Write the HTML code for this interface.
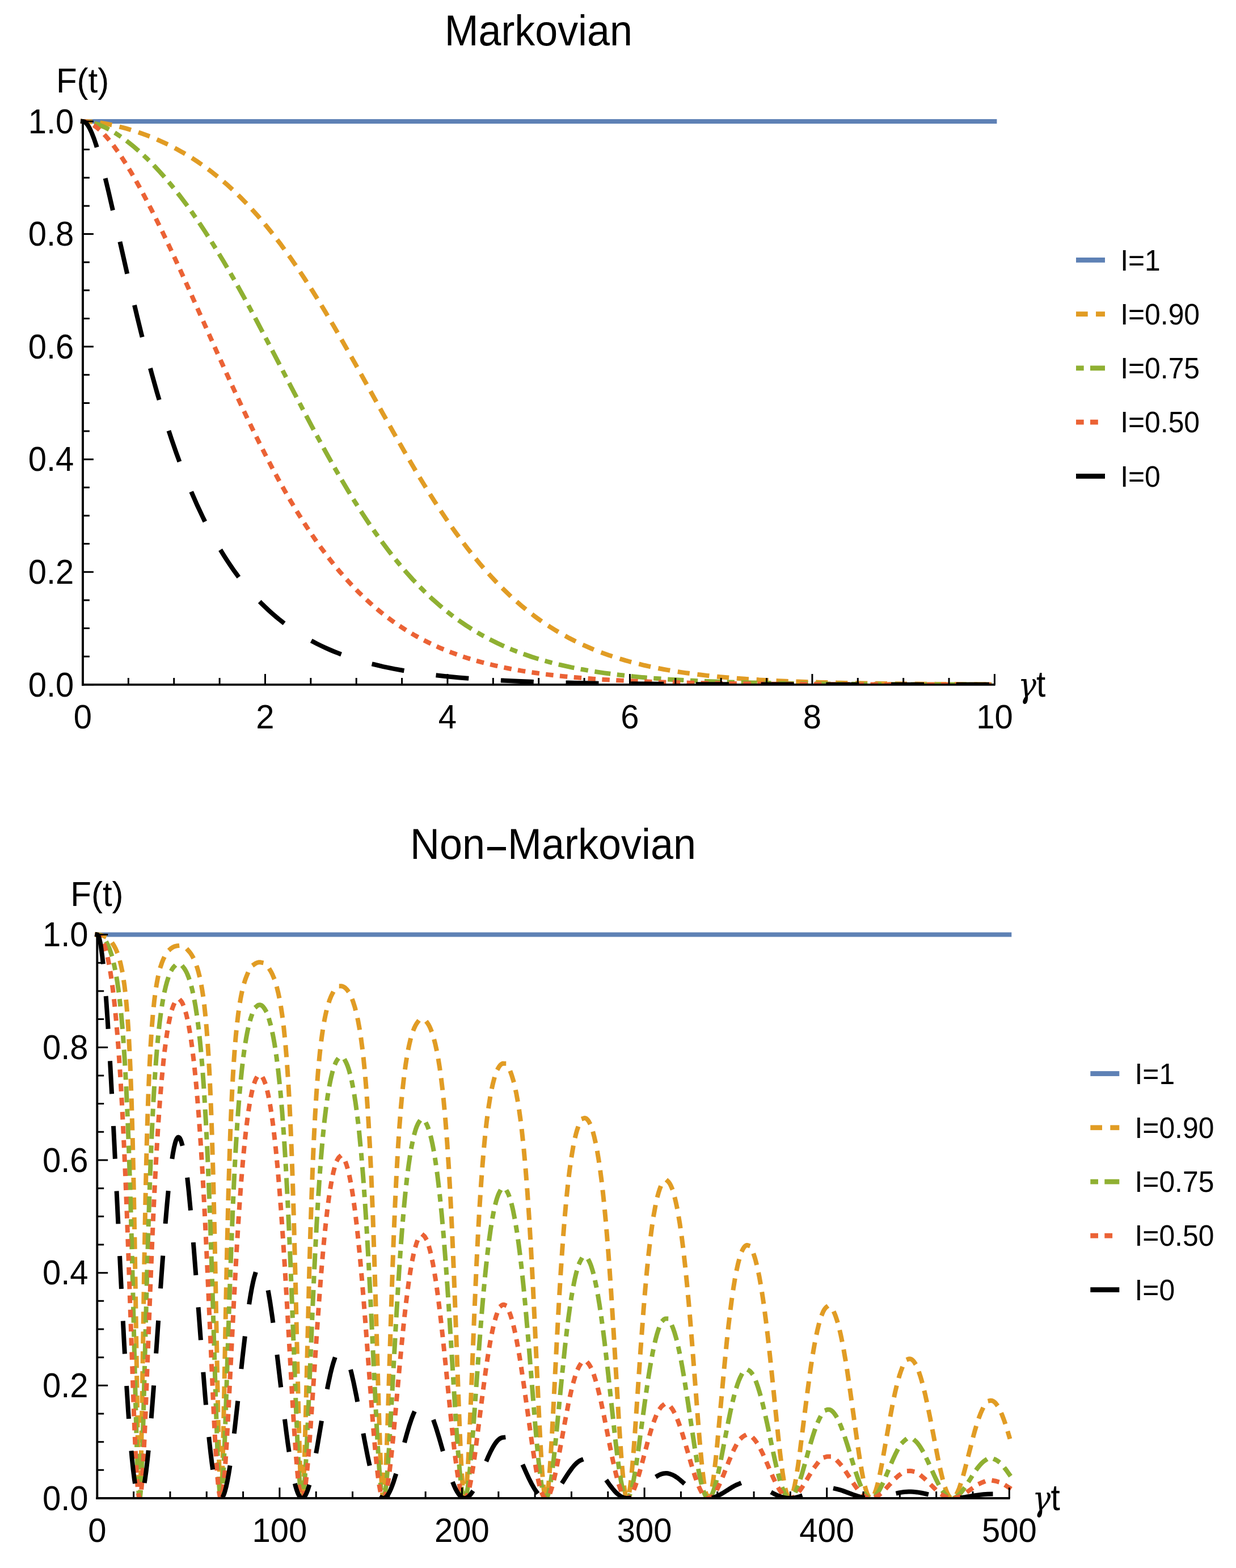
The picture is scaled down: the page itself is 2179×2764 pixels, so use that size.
<!DOCTYPE html>
<html><head><meta charset="utf-8"><title>F(t) Markovian / Non-Markovian</title>
<style>html,body{margin:0;padding:0;background:#fff;overflow:hidden}svg{display:block;width:100%;height:auto}</style></head><body>
<svg width="2179" height="2764" viewBox="0 0 2179 2764">
<rect width="2179" height="2764" fill="#fff"/>
<clipPath id="c0"><rect x="140" y="193.95" width="1627.4" height="1012.9"/></clipPath>
<g clip-path="url(#c0)" fill="none" stroke-width="8" stroke-linecap="square" stroke-linejoin="miter">
<path d="M146 213.95L1753.4 213.95" stroke="#5E81B5"/>
<path d="M146.00 213.95L154.04 214.16L162.48 214.75L171.72 215.78L181.36 217.20L191.41 219.01L201.46 221.12L211.90 223.63L222.35 226.44L232.80 229.54L242.85 232.80L253.29 236.48L263.34 240.30L273.39 244.40L283.43 248.80L293.48 253.51L303.12 258.32L312.37 263.21L321.61 268.39L330.45 273.62L339.29 279.12L348.13 284.92L356.97 291.02L365.81 297.42L374.25 303.82L382.69 310.52L391.13 317.53L399.57 324.85L408.01 332.48L416.45 340.44L424.48 348.32L432.92 356.93L440.96 365.44L454.22 380.16L467.48 395.74L480.74 412.18L494.40 430.01L507.67 448.16L521.33 467.72L535.39 488.72L549.46 510.56L561.51 529.89L573.97 550.42L587.23 572.82L600.89 596.40L627.01 642.58L674.43 727.96L692.92 760.97L712.21 794.80L729.49 824.35L739.53 841.13L749.18 856.92L758.82 872.36L768.06 886.83L777.31 900.95L786.15 914.11L794.99 926.92L803.83 939.37L814.68 954.16L825.13 967.86L835.57 981.04L846.02 993.69L856.47 1005.81L866.92 1017.40L877.37 1028.46L888.22 1039.40L898.67 1049.42L909.52 1059.30L920.36 1068.66L931.62 1077.83L942.87 1086.47L954.12 1094.61L965.37 1102.26L977.03 1109.69L989.88 1117.34L1003.15 1124.65L1016.41 1131.42L1030.07 1137.85L1044.13 1143.93L1058.20 1149.51L1072.67 1154.76L1087.94 1159.81L1103.21 1164.39L1119.28 1168.75L1135.76 1172.77L1153.04 1176.54L1170.72 1179.98L1189.20 1183.17L1208.49 1186.11L1228.58 1188.79L1248.27 1191.08L1269.17 1193.20L1290.87 1195.10L1313.78 1196.83L1337.89 1198.38L1363.61 1199.76L1390.53 1200.98L1419.46 1202.05L1449.60 1202.96L1482.15 1203.75L1555.29 1204.99L1643.29 1205.85L1753.40 1206.39" stroke="#E19C24" stroke-dasharray="13.200,21.704" stroke-dashoffset="0.400"/>
<path d="M146.00 213.95L150.02 214.10L154.04 214.52L158.46 215.26L162.88 216.27L167.30 217.52L172.12 219.13L176.94 220.98L182.17 223.24L187.39 225.73L192.61 228.45L197.84 231.39L203.46 234.77L208.69 238.12L214.31 241.93L219.94 245.95L225.57 250.18L236.82 259.22L248.47 269.40L259.72 279.99L271.38 291.74L282.63 303.82L294.28 317.09L305.94 331.13L317.59 345.93L328.04 359.83L338.89 374.89L349.74 390.58L360.59 406.88L371.44 423.77L382.69 441.88L393.94 460.56L405.60 480.48L416.45 499.51L427.30 518.96L438.55 539.53L450.60 561.95L474.31 606.93L518.92 692.89L537.40 728.23L556.69 764.47L573.97 796.13L584.02 814.11L594.06 831.73L603.71 848.27L613.35 864.43L623.00 880.19L632.24 894.88L641.48 909.17L650.32 922.44L661.57 938.77L672.42 953.90L683.68 968.94L694.53 982.83L705.38 996.10L716.63 1009.22L727.88 1021.69L739.13 1033.53L750.38 1044.74L762.04 1055.72L773.69 1066.06L785.34 1075.79L797.40 1085.24L809.45 1094.09L821.51 1102.37L833.97 1110.34L847.63 1118.45L861.69 1126.14L876.16 1133.41L890.63 1140.06L905.50 1146.31L921.17 1152.30L937.24 1157.85L953.72 1162.99L970.60 1167.71L988.28 1172.13L1006.36 1176.15L1025.25 1179.86L1044.94 1183.27L1065.43 1186.37L1086.73 1189.16L1109.23 1191.71L1131.34 1193.86L1154.64 1195.80L1179.16 1197.53L1204.87 1199.05L1232.20 1200.41L1261.54 1201.60L1292.88 1202.63L1327.04 1203.53L1362.40 1204.25L1400.98 1204.87L1490.59 1205.79L1602.30 1206.37L1753.40 1206.68" stroke="#8FB032" stroke-dasharray="5.300,19.700,20.200,19.590" stroke-dashoffset="0.400"/>
<path d="M146.00 213.95L148.01 214.04L150.42 214.36L152.83 214.92L155.24 215.68L157.65 216.64L160.47 218.00L162.88 219.35L165.69 221.13L171.32 225.30L176.94 230.21L182.97 236.19L189.00 242.85L195.43 250.63L201.86 259.03L208.69 268.57L215.92 279.32L223.16 290.66L230.39 302.54L238.02 315.63L246.06 329.96L258.92 353.95L272.18 379.89L286.25 408.52L301.52 440.70L315.18 470.26L330.05 503.04L383.49 622.94L405.19 671.06L427.30 718.84L437.74 740.86L447.79 761.61L459.04 784.32L470.29 806.42L481.14 827.12L491.99 847.18L502.44 865.88L512.89 883.94L523.34 901.35L533.79 918.10L544.64 934.79L555.49 950.77L566.34 966.03L577.19 980.58L588.04 994.42L599.29 1008.06L610.54 1020.97L621.79 1033.17L633.04 1044.69L644.70 1055.93L656.35 1066.48L668.00 1076.38L680.06 1085.97L692.11 1094.91L704.57 1103.53L717.43 1111.78L731.50 1120.11L745.96 1127.96L760.83 1135.34L776.10 1142.24L791.77 1148.66L807.85 1154.61L824.72 1160.23L842.00 1165.38L860.09 1170.18L878.57 1174.52L897.86 1178.52L917.95 1182.17L938.85 1185.48L960.95 1188.50L983.86 1191.19L1008.37 1193.64L1032.08 1195.65L1056.99 1197.43L1083.11 1199.00L1111.24 1200.39L1141.38 1201.62L1173.53 1202.67L1208.09 1203.57L1245.86 1204.33L1328.64 1205.44L1431.12 1206.16L1563.32 1206.58L1753.40 1206.78" stroke="#EB6235" stroke-dasharray="5.500,19.406" stroke-dashoffset="0.400"/>
<path d="M146.00 213.95L147.21 214.09L148.81 214.69L150.42 215.74L152.03 217.23L153.64 219.12L155.24 221.40L156.85 224.05L158.46 227.05L162.07 234.95L165.69 244.30L169.31 254.91L173.33 267.97L177.34 282.16L181.76 298.85L186.19 316.44L191.41 338.14L200.65 378.15L226.77 493.93L234.81 528.60L242.04 559.01L248.87 586.92L255.30 612.42L261.73 637.12L268.16 661.00L276.60 691.08L285.04 719.73L293.48 746.96L302.32 774.00L310.76 798.42L319.60 822.62L328.44 845.44L337.68 867.91L347.73 890.79L357.77 912.16L363.00 922.71L368.22 932.88L373.45 942.70L378.67 952.17L383.90 961.30L389.52 970.77L395.15 979.88L400.77 988.64L406.40 997.07L412.02 1005.17L417.65 1012.96L423.68 1020.98L429.71 1028.66L435.73 1036.03L441.76 1043.09L447.79 1049.86L454.22 1056.78L460.65 1063.39L467.08 1069.71L473.51 1075.76L479.94 1081.53L486.77 1087.39L493.60 1092.98L500.83 1098.61L508.07 1103.96L515.30 1109.05L522.53 1113.88L530.17 1118.73L537.00 1122.85L544.23 1127.00L551.47 1130.95L558.70 1134.70L565.93 1138.27L573.57 1141.85L581.20 1145.24L588.84 1148.45L596.88 1151.65L604.91 1154.67L613.35 1157.67L621.79 1160.49L639.07 1165.78L657.15 1170.67L675.64 1175.07L695.33 1179.17L715.82 1182.87L737.52 1186.26L760.03 1189.26L784.14 1192.00L809.45 1194.41L836.78 1196.58L862.10 1198.25L889.42 1199.75L918.36 1201.06L949.70 1202.20L983.05 1203.17L1019.22 1203.99L1058.60 1204.68L1102.40 1205.26L1198.04 1206.03L1320.61 1206.50L1485.77 1206.74L1753.40 1206.83" stroke="#000000" stroke-dasharray="50.000,64.720" stroke-dashoffset="0.400"/>
</g>
<g stroke="#000" fill="none">
<path d="M144.05 1206.85H1754.6" stroke-width="3.9"/>
<path d="M146 1208.8V211.95" stroke-width="3.9"/>
<path d="M146 1206.85H164.9M146 1157.2H157.9M146 1107.56H157.9M146 1057.91H157.9M146 1008.27H164.9M146 958.62H157.9M146 908.98H157.9M146 859.33H157.9M146 809.69H164.9M146 760.04H157.9M146 710.4H157.9M146 660.75H157.9M146 611.11H164.9M146 561.47H157.9M146 511.82H157.9M146 462.17H157.9M146 412.53H164.9M146 362.88H157.9M146 313.24H157.9M146 263.6H157.9M146 213.95H164.9M226.37 1206.85V1194.9M306.74 1206.85V1194.9M387.11 1206.85V1194.9M467.48 1206.85V1188.1M547.85 1206.85V1194.9M628.22 1206.85V1194.9M708.59 1206.85V1194.9M788.96 1206.85V1188.1M869.33 1206.85V1194.9M949.7 1206.85V1194.9M1030.07 1206.85V1194.9M1110.44 1206.85V1188.1M1190.81 1206.85V1194.9M1271.18 1206.85V1194.9M1351.55 1206.85V1194.9M1431.92 1206.85V1188.1M1512.29 1206.85V1194.9M1592.66 1206.85V1194.9M1673.03 1206.85V1194.9M1753.4 1206.85V1188.1" stroke-width="3"/>
</g>
<text transform="translate(130.3 1227.65) scale(1 1.04)" text-anchor="end" style="font-family:'Liberation Sans',Arial,sans-serif;font-size:58px">0.0</text>
<text transform="translate(130.3 1029.07) scale(1 1.04)" text-anchor="end" style="font-family:'Liberation Sans',Arial,sans-serif;font-size:58px">0.2</text>
<text transform="translate(130.3 830.49) scale(1 1.04)" text-anchor="end" style="font-family:'Liberation Sans',Arial,sans-serif;font-size:58px">0.4</text>
<text transform="translate(130.3 631.91) scale(1 1.04)" text-anchor="end" style="font-family:'Liberation Sans',Arial,sans-serif;font-size:58px">0.6</text>
<text transform="translate(130.3 433.33) scale(1 1.04)" text-anchor="end" style="font-family:'Liberation Sans',Arial,sans-serif;font-size:58px">0.8</text>
<text transform="translate(130.3 234.75) scale(1 1.04)" text-anchor="end" style="font-family:'Liberation Sans',Arial,sans-serif;font-size:58px">1.0</text>
<text transform="translate(146 1283.5) scale(1 1.03)" text-anchor="middle" style="font-family:'Liberation Sans',Arial,sans-serif;font-size:58px">0</text>
<text transform="translate(467.48 1283.5) scale(1 1.03)" text-anchor="middle" style="font-family:'Liberation Sans',Arial,sans-serif;font-size:58px">2</text>
<text transform="translate(788.96 1283.5) scale(1 1.03)" text-anchor="middle" style="font-family:'Liberation Sans',Arial,sans-serif;font-size:58px">4</text>
<text transform="translate(1110.44 1283.5) scale(1 1.03)" text-anchor="middle" style="font-family:'Liberation Sans',Arial,sans-serif;font-size:58px">6</text>
<text transform="translate(1431.92 1283.5) scale(1 1.03)" text-anchor="middle" style="font-family:'Liberation Sans',Arial,sans-serif;font-size:58px">8</text>
<text transform="translate(1753.4 1283.5) scale(1 1.03)" text-anchor="middle" style="font-family:'Liberation Sans',Arial,sans-serif;font-size:58px">10</text>
<text transform="translate(98.98 163.3) scale(1 1.03)" text-anchor="start" style="font-family:'Liberation Sans',Arial,sans-serif;font-size:60px">F(t)</text>
<text transform="translate(1794.79 1228.6) scale(0.915 1)" text-anchor="start" style="font-family:'DejaVu Serif',serif;font-style:italic;font-size:58.9px">&#947;</text>
<text transform="translate(1827.11 1228.1) scale(0.9 1)" text-anchor="start" style="font-family:'Liberation Sans',Arial,sans-serif;font-size:65.1px">t</text>
<text transform="translate(949.3 80) scale(0.984 1.035)" text-anchor="middle" style="font-family:'Liberation Sans',Arial,sans-serif;font-size:73px">Markovian</text>
<rect x="1897" y="454" width="51" height="8.8" fill="#5E81B5"/>
<text transform="translate(1975.2 476.6) scale(0.958 1)" text-anchor="start" style="font-family:'Liberation Sans',Arial,sans-serif;font-size:52px">I=1</text>
<rect x="1897" y="549.2" width="20.7" height="8.8" fill="#E19C24"/>
<rect x="1932" y="549.2" width="16" height="8.8" fill="#E19C24"/>
<text transform="translate(1975.2 571.8) scale(0.958 1)" text-anchor="start" style="font-family:'Liberation Sans',Arial,sans-serif;font-size:52px">I=0.90</text>
<rect x="1897" y="644.5" width="13.7" height="8.8" fill="#8FB032"/>
<rect x="1922" y="644.5" width="26" height="8.8" fill="#8FB032"/>
<text transform="translate(1975.2 667.1) scale(0.958 1)" text-anchor="start" style="font-family:'Liberation Sans',Arial,sans-serif;font-size:52px">I=0.75</text>
<rect x="1897" y="739.7" width="13.7" height="8.8" fill="#EB6235"/>
<rect x="1922" y="739.7" width="13.8" height="8.8" fill="#EB6235"/>
<text transform="translate(1975.2 762.3) scale(0.958 1)" text-anchor="start" style="font-family:'Liberation Sans',Arial,sans-serif;font-size:52px">I=0.50</text>
<rect x="1897" y="835" width="51" height="8.8" fill="#000000"/>
<text transform="translate(1975.2 857.6) scale(0.958 1)" text-anchor="start" style="font-family:'Liberation Sans',Arial,sans-serif;font-size:52px">I=0</text>
<clipPath id="c1"><rect x="165.3" y="1627.6" width="1628" height="1013.4"/></clipPath>
<g clip-path="url(#c1)" fill="none" stroke-width="8" stroke-linecap="square" stroke-linejoin="miter">
<path d="M171.3 1647.6L1779.3 1647.6" stroke="#5E81B5"/>
<path d="M171.30 1647.60L174.14 1647.74L176.95 1648.15L179.72 1648.83L182.42 1649.78L185.02 1650.98L187.54 1652.44L189.95 1654.13L192.28 1656.10L194.46 1658.25L196.55 1660.66L198.53 1663.30L200.43 1666.21L202.25 1669.39L203.97 1672.79L205.60 1676.45L207.19 1680.45L210.08 1689.17L212.73 1699.15L215.14 1710.38L217.37 1723.10L219.41 1737.30L221.31 1753.37L223.05 1771.08L224.69 1790.97L226.08 1811.00L227.37 1832.52L228.60 1856.43L229.75 1882.19L231.89 1940.90L233.88 2010.83L235.67 2090.17L237.42 2183.59L239.00 2281.91L242.03 2485.99L243.34 2562.90L244.09 2597.60L244.79 2621.58L245.46 2635.92L245.80 2639.75L246.13 2640.99L246.26 2640.87L246.42 2640.21L246.72 2637.59L247.33 2626.37L247.97 2606.90L248.64 2579.23L250.20 2493.72L254.11 2242.04L256.07 2133.94L257.38 2072.30L258.72 2018.07L260.14 1969.14L261.64 1925.68L263.38 1884.03L265.26 1847.66L267.32 1815.58L269.58 1787.82L272.07 1763.69L273.41 1752.95L274.83 1742.95L276.33 1733.70L277.91 1725.20L279.57 1717.42L281.34 1710.24L283.32 1703.32L285.41 1697.11L287.64 1691.52L290.02 1686.48L292.57 1682.02L295.25 1678.17L298.09 1674.88L301.09 1672.16L304.36 1669.95L306.05 1669.08L307.79 1668.36L309.53 1667.82L311.30 1667.43L313.10 1667.22L314.89 1667.17L316.69 1667.28L318.49 1667.56L320.25 1668.01L322.02 1668.62L325.48 1670.32L328.80 1672.65L331.62 1675.22L334.30 1678.25L336.84 1681.73L339.28 1685.71L341.59 1690.14L343.78 1695.07L345.85 1700.45L347.83 1706.41L349.71 1712.88L351.48 1719.85L353.16 1727.42L354.75 1735.46L356.27 1744.23L357.72 1753.60L360.43 1774.45L362.44 1793.40L364.31 1814.44L366.08 1837.90L367.74 1863.83L369.30 1892.18L370.77 1923.39L372.19 1958.11L373.53 1995.68L375.94 2076.94L378.30 2175.49L380.39 2278.49L384.33 2490.61L385.94 2565.33L386.85 2598.69L387.71 2622.06L388.54 2636.11L388.97 2639.80L389.18 2640.71L389.37 2641.00L389.56 2640.80L389.77 2640.00L390.18 2636.82L391.01 2623.59L391.86 2601.26L392.78 2569.27L394.41 2496.34L398.32 2294.64L400.39 2196.94L402.69 2103.56L405.08 2024.70L406.39 1988.22L407.73 1955.42L409.15 1924.96L410.65 1896.95L412.23 1871.42L413.89 1848.30L415.66 1827.22L417.57 1807.90L420.06 1786.89L422.76 1768.44L424.21 1760.09L425.71 1752.36L427.29 1745.12L428.93 1738.48L430.67 1732.24L432.47 1726.60L434.37 1721.37L436.35 1716.65L438.42 1712.43L440.59 1708.66L442.84 1705.39L445.17 1702.61L447.80 1700.14L450.53 1698.25L453.34 1696.96L456.18 1696.30L459.05 1696.27L461.92 1696.86L464.76 1698.06L467.55 1699.88L470.23 1702.26L472.80 1705.18L475.29 1708.66L477.70 1712.71L480.01 1717.29L482.21 1722.39L484.32 1728.08L486.33 1734.29" stroke="#E19C24" stroke-dasharray="13.200,21.711" stroke-dashoffset="0.400"/>
<path d="M486.31 1734.20L488.37 1741.49L490.35 1749.51L492.23 1758.17L494.03 1767.57L495.74 1777.73L497.38 1788.64L498.93 1800.28L500.43 1812.86L503.24 1840.66L505.84 1872.31L508.26 1908.12L510.53 1948.96L512.49 1990.58L514.37 2037.09L516.19 2089.23L517.96 2146.91L521.04 2264.03L526.53 2499.34L528.54 2572.32L529.62 2602.53L530.61 2623.35L531.57 2636.12L532.05 2639.55L532.30 2640.51L532.54 2640.96L532.78 2640.91L533.05 2640.25L533.58 2637.08L534.12 2631.49L534.65 2623.57L535.75 2600.61L536.96 2566.44L539.02 2492.47L545.29 2240.47L547.41 2166.80L549.53 2102.43L551.46 2051.66L553.44 2006.62L555.53 1966.06L557.76 1929.57L559.23 1908.63L560.76 1889.28L562.37 1871.21L564.03 1854.68L565.77 1839.40L567.62 1825.17L569.57 1812.03L571.61 1800.16L573.78 1789.26L576.06 1779.46L578.45 1770.76L580.96 1763.05L583.62 1756.35L586.41 1750.66L587.83 1748.24L589.30 1746.04L590.80 1744.11L592.30 1742.47L594.23 1740.78L596.19 1739.52L598.17 1738.68L600.15 1738.28L602.16 1738.31L604.15 1738.77L606.13 1739.65L608.11 1740.97L610.07 1742.71L611.97 1744.85L613.85 1747.39L615.67 1750.31L617.47 1753.65L619.21 1757.36L620.92 1761.50L622.59 1766.01L625.67 1775.83L628.59 1787.14L631.35 1799.95L633.95 1814.25L636.41 1830.19L638.75 1847.77L640.97 1867.21L643.06 1888.26L644.67 1906.55L646.22 1926.19L649.20 1969.97L651.98 2019.62L654.64 2075.97L657.32 2143.00L660.02 2221.40L662.57 2304.03L667.82 2485.12L670.32 2560.49L671.76 2595.45L673.10 2619.86L673.75 2628.45L674.39 2634.87L675.03 2639.03L675.35 2640.25L675.68 2640.89L675.97 2640.97L676.27 2640.57L676.88 2638.17L677.47 2633.94L678.09 2627.57L679.35 2608.73L680.66 2581.74L683.15 2515.00L690.23 2289.87L692.27 2230.20L694.22 2177.81L696.55 2122.03L698.91 2072.81L701.35 2028.89L703.92 1989.38L706.90 1951.17L708.45 1933.95L710.06 1917.88L711.75 1902.71L713.49 1888.71L715.29 1875.84L717.16 1863.91L719.12 1852.93L721.16 1842.93L723.27 1833.89L725.44 1825.92L727.72 1818.82L730.08 1812.68L732.52 1807.52L735.01 1803.38L736.67 1801.21L738.36 1799.48L740.05 1798.19L741.76 1797.33L743.48 1796.91L745.20 1796.93L746.94 1797.39L748.65 1798.29L750.37 1799.62L752.06 1801.37L753.72 1803.53L755.38 1806.13L757.01 1809.15L758.62 1812.58L760.20 1816.41L761.76 1820.66L764.71 1830.13L767.52 1841.05L770.23 1853.55L772.80 1867.49L775.26 1882.99L777.65 1900.27L779.93 1919.14L782.10 1939.58L785.29 1974.59L788.29 2013.79L791.18 2058.25L793.97 2108.00L796.97 2169.81L800.00 2240.91L802.90 2316.09L809.09 2485.83L812.14 2559.74L813.91 2594.19L815.57 2618.83L816.38 2627.66L817.15 2634.13L817.93 2638.49L818.33 2639.90L818.71 2640.70L819.08 2641.00L819.48 2640.75L819.86 2640.01L820.26 2638.66L821.04 2634.45L821.84 2627.97L822.65 2619.41L823.48 2608.54L825.25 2579.30L826.72 2549.69L828.36 2512.75L836.02 2321.33L840.12 2228.15L842.43 2181.81L844.76 2139.60L847.12 2101.53L849.53 2067.12L852.18 2034.09L854.97 2004.23L857.86 1977.85L860.92 1954.43L864.13 1934.03L865.80 1924.99L867.51 1916.63L869.25 1909.07L871.05 1902.21L872.90 1896.05L874.77 1890.69L876.22 1887.12L877.69 1883.99L879.20 1881.28L880.70 1879.05L882.22 1877.25L883.75 1875.92L885.28 1875.05L886.83 1874.62L888.39 1874.65L889.94 1875.13L891.50 1876.08L893.02 1877.46L894.55 1879.29L896.08 1881.58L897.61 1884.34L899.11 1887.52L900.55 1891.05L902.00 1895.03L904.84 1904.27L907.60 1915.18L910.26 1927.62L912.83 1941.70L915.32 1957.44L917.73 1974.82L920.07 1993.86L923.42 2025.46L926.63 2061.09L929.74 2101.03L932.77 2145.60L936.09 2201.23L939.50 2265.39L942.76 2332.90L949.95 2488.52L951.88 2527.32L953.57 2558.30L955.66 2591.34L957.59 2615.27L958.52 2624.27L959.46 2631.41L960.37 2636.48L961.28 2639.68L961.79 2640.64L962.30 2641.00L962.81 2640.76L963.32 2639.94L963.83 2638.53L964.37 2636.42L965.41 2630.53L966.48 2622.13L967.58 2611.22L968.73 2597.50L969.91 2581.30L971.76 2552.25L973.88 2514.83L981.73 2362.64L985.32 2296.75L988.99 2235.97L992.61 2183.48" stroke="#E19C24" stroke-dasharray="13.200,21.703" stroke-dashoffset="25.895"/>
<path d="M992.59 2183.84L995.37 2148.39L998.21 2116.57L1001.14 2088.07L1004.16 2062.66L1007.30 2040.37L1010.54 2021.19L1012.20 2012.76L1013.92 2004.99L1015.63 1998.11L1017.40 1991.90L1019.23 1986.41L1021.07 1981.74L1022.95 1977.88L1024.83 1974.89L1026.73 1972.71L1027.69 1971.93L1028.66 1971.37L1029.62 1971.02L1030.59 1970.87L1031.55 1970.94L1032.52 1971.23L1033.48 1971.72L1034.45 1972.42L1036.38 1974.45L1038.31 1977.34L1040.21 1981.04L1042.11 1985.61L1043.99 1990.97L1045.84 1997.13L1047.66 2004.08L1050.34 2015.95L1052.97 2029.60L1055.54 2045.05L1058.06 2062.29L1060.52 2081.34L1062.94 2102.17L1065.29 2124.78L1067.63 2149.39L1069.98 2176.66L1072.32 2206.02L1074.67 2238.13L1077.09 2273.38L1081.54 2344.04L1090.94 2502.91L1093.35 2540.28L1095.50 2570.19L1098.12 2601.01L1099.38 2613.05L1100.59 2622.70L1101.80 2630.40L1102.98 2635.94L1103.56 2637.96L1104.15 2639.47L1104.72 2640.43L1105.31 2640.94L1105.84 2640.96L1106.41 2640.52L1106.97 2639.63L1107.53 2638.28L1108.66 2634.25L1109.78 2628.50L1110.93 2620.92L1112.14 2611.29L1114.63 2586.51L1116.75 2561.22L1119.11 2529.67L1129.40 2378.36L1134.63 2307.56L1137.52 2272.42L1140.39 2240.80L1143.26 2212.40L1146.15 2186.95L1149.31 2162.71L1152.53 2141.70L1155.82 2123.72L1157.49 2115.96L1159.17 2108.93L1160.89 2102.64L1162.61 2097.19L1164.35 2092.48L1166.12 2088.54L1167.88 2085.42L1169.65 2083.10L1171.45 2081.56L1172.33 2081.10L1173.24 2080.83L1174.16 2080.77L1175.07 2080.91L1175.98 2081.25L1176.92 2081.82L1178.77 2083.57L1180.59 2086.13L1182.44 2089.56L1184.26 2093.79L1186.08 2098.86L1187.88 2104.70L1189.67 2111.38L1191.44 2118.82L1193.21 2127.11L1194.95 2136.13L1198.41 2156.64L1201.81 2180.33L1204.92 2205.09L1208.00 2232.64L1211.09 2263.17L1214.25 2297.48L1217.01 2329.72L1219.98 2366.50L1231.64 2517.80L1234.46 2551.15L1236.95 2577.68L1238.48 2592.15L1239.92 2604.39L1241.34 2614.87L1242.71 2623.40L1244.08 2630.32L1245.42 2635.47L1246.76 2638.95L1247.43 2640.06L1248.07 2640.72L1248.71 2640.99L1249.38 2640.86L1250.05 2640.31L1250.72 2639.34L1251.39 2637.97L1252.09 2636.11L1253.46 2631.24L1254.85 2624.68L1256.30 2616.27L1257.77 2606.18L1259.33 2594.05L1261.85 2571.64L1264.66 2543.53L1275.92 2419.94L1281.28 2365.07L1284.17 2338.19L1287.01 2313.97L1289.80 2292.40L1292.59 2273.06L1295.48 2255.34L1298.37 2240.01L1301.30 2226.90L1304.24 2216.03L1305.72 2211.47L1307.22 2207.40L1308.72 2203.93L1310.22 2201.02L1311.72 2198.69L1313.25 2196.90L1314.75 2195.71L1316.28 2195.06L1317.86 2195.00L1319.44 2195.54L1321.02 2196.70L1322.63 2198.49L1324.24 2200.92L1325.82 2203.91L1327.40 2207.51L1328.98 2211.72L1330.56 2216.54L1332.14 2221.98L1335.30 2234.69L1338.47 2249.86L1341.63 2267.51L1344.55 2286.00L1347.53 2306.92L1350.55 2330.32L1353.66 2356.39L1359.42 2409.33L1371.94 2532.01L1375.16 2560.88L1378.05 2584.28L1379.79 2596.84L1381.48 2607.74L1383.12 2616.99L1384.70 2624.60L1386.28 2630.83L1387.83 2635.53L1389.39 2638.80L1390.16 2639.89L1390.91 2640.59L1391.66 2640.95L1392.44 2640.96L1393.22 2640.61L1394.00 2639.90L1394.77 2638.84L1395.55 2637.43L1397.13 2633.52L1398.74 2628.17L1400.40 2621.28L1402.12 2612.85L1403.91 2602.73L1406.81 2584.06L1410.05 2560.49L1422.14 2463.80L1427.50 2423.51L1430.31 2404.15L1433.04 2386.76L1435.72 2371.17L1438.38 2357.25L1440.98 2345.11L1443.55 2334.59L1446.12 2325.57L1448.70 2318.04L1451.27 2312.02L1452.55 2309.57L1453.87 2307.45L1455.15 2305.75L1456.44 2304.42L1457.73 2303.45L1459.04 2302.85L1460.46 2302.62L1461.88 2302.84L1463.30 2303.49L1464.72 2304.59L1466.14 2306.13L1467.59 2308.14L1469.01 2310.55L1470.46 2313.45L1471.88 2316.73L1473.32 2320.50L1476.22 2329.37L1479.11 2339.95L1482.06 2352.45L1484.85 2365.80L1487.66 2380.73L1490.56 2397.50L1493.59 2416.44L1499.29 2455.28L1512.45 2550.18L1516.04 2573.93L1519.26 2593.11L1521.19 2603.41L1523.07 2612.41L1524.89 2620.10L1526.66 2626.49L1528.40 2631.70L1530.14 2635.78L1531.86 2638.66L1532.71 2639.68L1533.57 2640.41L1534.43 2640.85L1535.29 2641.00L1536.14 2640.87L1537.03 2640.44L1537.91 2639.72L1538.80 2638.70L1540.57 2635.83L1542.39 2631.73L1544.24 2626.48L1546.17 2619.91L1548.15 2612.11L1551.39 2597.44L1555.04 2578.74L1567.82 2506.20L1573.10 2477.91L1575.78 2464.68L1578.38 2452.75L1580.90 2442.12L1583.37 2432.68L1585.59 2425.02L1587.81 2418.20L1590.01 2412.31L1592.21 2407.28L1594.41 2403.12L1596.58 2399.87L1598.75 2397.47L1599.82 2396.61L1600.92 2395.94L1602.26 2395.42L1603.63 2395.23L1604.99 2395.38L1606.36 2395.86L1607.73 2396.68L1609.09 2397.83L1610.46 2399.31L1611.83 2401.12L1613.19 2403.24L1614.59 2405.74L1617.37 2411.72L1620.19 2419.04L1623.06 2427.78L1625.71 2436.94L1628.44 2447.40L1631.26 2459.16L1634.23 2472.55L1639.86 2500.04L1653.37 2569.70L1657.20 2587.86L1660.63 2602.57L1662.67 2610.41L1664.62 2617.24L1666.55 2623.22L1668.43 2628.27L1670.28 2632.46L1672.13 2635.83L1673.95 2638.34L1675.74 2640.01L1676.66 2640.55L1677.57 2640.88L1678.48 2641.00L1679.39 2640.92L1680.30 2640.63L1681.24 2640.12L1683.11 2638.49L1685.02 2636.01L1686.95 2632.70L1688.93 2628.51L1690.97 2623.45L1694.59 2612.82L1698.61 2599.05L1702.68 2583.67L1714.82 2535.89L1718.73 2521.66L1722.32 2509.69L1726.45 2497.53L1728.46 2492.29L1730.42 2487.66L1732.37 2483.52L1734.30 2479.91L1736.21 2476.84L1738.11 2474.25L1740.31 2471.88L1742.50 2470.19L1744.70 2469.16L1745.80 2468.90L1746.90 2468.81L1748.00 2468.88L1749.10 2469.12L1751.32 2470.12L1753.55 2471.78L1755.77 2474.11L1758.02 2477.11L1760.30 2480.80L1762.60 2485.17L1764.94 2490.22L1767.32 2495.99L1769.79 2502.56L1772.33 2509.93L1774.99 2518.18" stroke="#E19C24" stroke-dasharray="13.200,21.631" stroke-dashoffset="25.794"/>
<path d="M1774.96 2518.09L1779.30 2532.59" stroke="#E19C24" stroke-dasharray="13.200,21.631" stroke-dashoffset="25.813"/>
<path d="M171.30 1647.60L173.28 1647.79L175.27 1648.35L177.22 1649.27L179.18 1650.58L181.11 1652.25L182.98 1654.26L184.83 1656.63L186.63 1659.33L188.37 1662.35L190.09 1665.74L191.75 1669.46L193.36 1673.48L196.44 1682.55L199.33 1692.93L202.01 1704.47L204.56 1717.49L206.94 1731.86L209.20 1747.72L211.34 1765.28L213.35 1784.32L215.25 1805.03L217.07 1827.73L219.86 1868.86L222.49 1916.22L224.95 1969.88L227.29 2030.23L229.67 2102.81L232.08 2187.79L234.33 2276.64L239.02 2473.27L241.25 2554.95L242.53 2592.58L243.74 2619.03L244.33 2628.38L244.89 2634.96L245.48 2639.30L245.78 2640.47L246.05 2640.96L246.31 2640.89L246.58 2640.28L247.12 2637.41L247.65 2632.40L248.19 2625.32L249.31 2604.16L250.49 2573.92L252.69 2501.14L258.80 2262.34L262.23 2143.27L264.22 2084.06L266.23 2031.28L268.32 1983.56L270.49 1940.90L272.98 1899.42L275.63 1862.67L278.47 1830.26L279.97 1815.58L281.53 1801.90L283.16 1789.00L284.85 1777.12L286.62 1766.05L288.44 1755.96L290.35 1746.69L292.33 1738.25L294.39 1730.63L296.54 1723.84L298.33 1718.94L300.18 1714.59L302.08 1710.78L304.01 1707.56L306.00 1704.88L308.01 1702.78L310.07 1701.22L312.13 1700.27L314.22 1699.89L316.31 1700.09L318.41 1700.87L320.50 1702.25L322.56 1704.20L324.60 1706.72L326.61 1709.81L328.56 1713.44L330.38 1717.40L332.18 1721.89L333.92 1726.84L335.64 1732.33L337.30 1738.29L338.91 1744.71L342.02 1759.13L344.94 1775.47L347.70 1793.86L350.32 1814.50L352.79 1837.15L354.64 1856.56L356.41 1877.31L358.12 1899.73L359.78 1923.84L362.95 1977.10L365.95 2037.89L368.95 2109.92L371.98 2194.52L374.79 2282.85L380.55 2475.25L383.29 2555.36L384.87 2592.39L386.34 2618.44L387.07 2627.79L387.76 2634.50L388.49 2638.99L388.84 2640.24L389.18 2640.90L389.53 2640.95L389.88 2640.41L390.58 2637.55L391.27 2632.37L392.00 2624.64L393.50 2601.52L395.08 2568.21L397.84 2494.21L404.08 2301.46L407.25 2210.76L410.73 2123.57L412.47 2085.32L414.24 2050.02L416.09 2016.71L417.97 1986.40L419.92 1958.18L421.93 1932.45L424.02 1908.83L426.22 1887.04L428.50 1867.38L430.88 1849.57L432.57 1838.49L434.32 1828.25L436.11 1818.86L437.99 1810.19L439.89 1802.49L441.87 1795.54L443.91 1789.44L445.97 1784.27L448.12 1779.89L450.29 1776.42L452.51 1773.83L453.64 1772.87L454.76 1772.14L455.89 1771.65L457.04 1771.38L458.17 1771.34L459.32 1771.54L460.47 1771.97L461.60 1772.62L462.72 1773.50L463.85 1774.60L466.05 1777.43L468.19 1781.07L470.31 1785.56L472.40 1790.90L474.43 1797.04L476.44 1804.06L478.37 1811.76L480.28 1820.36L482.13 1829.74L483.92 1839.89L485.66 1850.82L487.35 1862.50L490.62 1888.52L493.70 1917.73" stroke="#8FB032" stroke-dasharray="5.300,19.700,20.200,19.586" stroke-dashoffset="0.400"/>
<path d="M493.68 1917.45L495.53 1937.43L497.32 1958.79L500.81 2006.41L504.13 2060.31L507.37 2121.72L509.73 2172.08L512.17 2229.03L515.01 2300.79L522.11 2488.38L524.23 2538.51L526.08 2576.39L527.77 2604.51L529.37 2624.39L530.15 2631.33L530.93 2636.43L531.71 2639.65L532.11 2640.57L532.48 2640.97L532.89 2640.90L533.29 2640.32L534.12 2637.54L534.95 2632.66L535.78 2625.75L536.64 2616.61L537.50 2605.56L539.34 2575.96L540.93 2545.47L542.67 2507.78L551.08 2306.61L553.41 2254.29L555.61 2208.37L558.16 2159.70L560.73 2115.57L563.33 2075.99L566.01 2040.14L569.01 2005.41L572.15 1974.61L575.44 1947.54L577.13 1935.55L578.87 1924.39L580.67 1914.10L582.49 1904.81L584.37 1896.40L586.27 1888.97L588.23 1882.43L590.21 1876.87L592.22 1872.27L594.28 1868.59L595.57 1866.81L596.88 1865.40L598.20 1864.37L599.51 1863.74L600.82 1863.49L602.14 1863.62L603.48 1864.15L604.79 1865.05L606.10 1866.34L607.42 1868.01L608.73 1870.08L610.04 1872.54L612.62 1878.55L615.13 1886.00L617.57 1894.79L619.99 1905.09L622.34 1916.83L624.62 1929.84L626.87 1944.43L629.04 1960.27L631.16 1977.52L633.25 1996.41L636.82 2033.29L640.25 2074.85L643.60 2121.67L646.92 2174.50L649.76 2224.66L652.74 2281.70L663.37 2501.29L665.49 2540.56L667.42 2572.33L669.57 2601.73L670.58 2613.13L671.58 2622.47L672.57 2629.98L673.56 2635.58L674.52 2639.16L675.01 2640.24L675.49 2640.85L676.00 2640.98L676.51 2640.59L677.02 2639.69L677.55 2638.17L678.60 2633.62L679.64 2627.02L680.71 2618.24L681.81 2607.26L684.14 2578.16L686.07 2549.17L688.22 2513.17L697.36 2344.88L701.91 2266.99L704.41 2228.37L706.87 2193.27L709.36 2160.97L711.86 2131.82L714.48 2104.39L717.14 2079.91L719.87 2057.88L722.66 2038.52L725.52 2021.63L728.47 2007.23L729.97 2000.98L731.50 1995.34L733.03 1990.39L734.58 1986.06L736.91 1980.83L738.07 1978.80L739.25 1977.08L740.42 1975.73L741.60 1974.75L742.78 1974.12L743.96 1973.85L745.14 1973.94L746.35 1974.39L747.55 1975.22L748.73 1976.38L749.91 1977.89L751.09 1979.77L753.45 1984.60L755.78 1990.82L758.09 1998.41L760.36 2007.39L762.62 2017.74L764.84 2029.48L767.01 2042.44L769.15 2056.78L771.27 2072.49L774.92 2103.34L778.51 2138.71L782.05 2178.56L785.61 2223.80L788.66 2266.47L791.91 2315.27L803.91 2508.16L806.46 2545.09L808.74 2574.54L811.36 2602.93L812.60 2613.83L813.83 2623.01L815.04 2630.23L816.22 2635.55L817.39 2639.08L817.98 2640.17L818.57 2640.81L819.16 2641.00L819.78 2640.71L820.37 2639.99L820.99 2638.75L822.22 2634.87L823.45 2629.16L824.71 2621.53L826.00 2612.00L827.34 2600.36L828.73 2586.60L831.01 2561.01L833.58 2528.56L844.46 2377.47L847.28 2340.34L849.90 2307.70L852.88 2273.45L855.83 2242.59L858.75 2215.11L861.69 2190.52L864.88 2167.37L868.10 2147.55L869.73 2138.78L871.37 2130.86L873.03 2123.67L874.69 2117.32L876.38 2111.71L878.07 2106.93L879.78 2102.91L881.50 2099.71L883.22 2097.33L884.96 2095.73L885.81 2095.24L886.70 2094.95L887.56 2094.86L888.44 2094.97" stroke="#8FB032" stroke-dasharray="5.300,19.700,20.200,19.481" stroke-dashoffset="55.637"/>
<path d="M888.41 2094.97L889.22 2095.25L890.05 2095.72L891.71 2097.20L893.35 2099.38L894.98 2102.27L896.62 2105.88L898.25 2110.20L899.88 2115.24L901.52 2121.02L903.13 2127.42L904.74 2134.55L907.92 2150.87L911.09 2169.96L914.25 2192.01L917.20 2215.26L920.17 2241.36L923.17 2270.31L926.23 2302.33L931.88 2367.45L943.86 2515.13L946.87 2548.96L949.57 2576.36L951.21 2591.08L952.79 2603.78L954.34 2614.63L955.84 2623.46L957.32 2630.45L958.79 2635.71L959.51 2637.64L960.24 2639.13L960.96 2640.19L961.69 2640.81L962.38 2641.00L963.08 2640.78L963.78 2640.17L964.50 2639.11L965.92 2635.83L967.37 2630.89L968.84 2624.29L970.34 2616.05L971.90 2606.05L973.53 2594.08L976.18 2571.97L979.19 2543.91L990.79 2424.73L996.20 2372.74L999.10 2347.44L1001.91 2324.79L1004.70 2304.40L1007.46 2286.27L1010.27 2269.94L1013.11 2255.67L1015.96 2243.60L1018.82 2233.64L1020.24 2229.52L1021.69 2225.87L1023.14 2222.77L1024.59 2220.22L1026.03 2218.21L1027.48 2216.74L1028.93 2215.80L1030.40 2215.40L1031.85 2215.53L1033.32 2216.22L1034.80 2217.44L1036.27 2219.21L1037.72 2221.48L1039.19 2224.32L1040.67 2227.70L1042.14 2231.63L1045.09 2241.08L1048.04 2252.68L1050.98 2266.41L1053.96 2282.39L1056.80 2299.60L1059.69 2319.03L1062.64 2340.68L1065.67 2364.73L1071.40 2414.40L1084.27 2532.83L1087.73 2561.95L1090.81 2585.26L1092.68 2597.88L1094.48 2608.67L1096.25 2617.93L1097.96 2625.52L1099.65 2631.57L1101.34 2636.16L1102.17 2637.86L1103.00 2639.20L1103.83 2640.17L1104.66 2640.77L1105.44 2640.99L1106.24 2640.89L1107.05 2640.44L1107.85 2639.66L1108.66 2638.55L1109.46 2637.11L1111.10 2633.20L1112.76 2627.95L1114.47 2621.27L1116.24 2613.14L1118.06 2603.60L1121.07 2585.66L1124.44 2562.96L1136.80 2471.58L1142.21 2433.91L1145.02 2415.96L1147.76 2399.84L1150.41 2385.54L1153.01 2372.90L1155.58 2361.77L1158.16 2352.07L1160.73 2343.81L1163.28 2337.07L1165.82 2331.77L1167.08 2329.68L1168.37 2327.91L1169.63 2326.53L1170.91 2325.48L1172.20 2324.79L1173.49 2324.47L1174.77 2324.51L1176.09 2324.92L1177.40 2325.70L1178.71 2326.86L1180.03 2328.38L1181.34 2330.28L1182.65 2332.53L1183.99 2335.21L1186.64 2341.61L1189.32 2349.53L1192.03 2358.98L1194.77 2369.95L1197.45 2382.03L1200.18 2395.64L1202.99 2410.90L1205.91 2427.94L1211.54 2463.55L1225.02 2553.71L1228.83 2576.99L1232.26 2595.82L1234.32 2605.90L1236.33 2614.67L1238.26 2622.01L1240.16 2628.16L1242.04 2633.09L1243.89 2636.80L1244.83 2638.24L1245.74 2639.35L1246.65 2640.18L1247.59 2640.73L1248.45 2640.97L1249.33 2640.96L1250.21 2640.68L1251.10 2640.14L1251.98 2639.34L1252.87 2638.29L1254.66 2635.39L1256.49 2631.46L1258.36 2626.44L1260.29 2620.32L1262.30 2613.02L1265.60 2599.30L1269.30 2581.91L1282.24 2514.76L1287.57 2488.64L1290.31 2476.32L1292.91 2465.45L1295.45 2455.69L1297.92 2447.14L1300.30 2439.76L1302.64 2433.43L1304.94 2428.06L1307.24 2423.59L1309.55 2420.04L1311.85 2417.41L1313.01 2416.45L1314.13 2415.73L1315.28 2415.22L1316.44 2414.94L1317.64 2414.90L1318.85 2415.11L1320.06 2415.58L1321.29 2416.31L1322.49 2417.28L1323.73 2418.52L1326.17 2421.72L1328.63 2425.95L1331.12 2431.21L1333.67 2437.57L1336.24 2444.95L1338.76 2453.06L1341.36 2462.29L1344.07 2472.74L1346.88 2484.40L1352.40 2509.15L1362.37 2556.62L1366.29 2574.71L1370.36 2592.28L1374.03 2606.49L1376.23 2614.05L1378.37 2620.65L1380.44 2626.21L1382.47 2630.88L1384.48 2634.65L1386.47 2637.53L1388.45 2639.55L1389.44 2640.24L1390.43 2640.70L1391.37 2640.94L1392.31 2640.99L1393.25 2640.85L1394.18 2640.52L1396.09 2639.28L1398.02 2637.27L1399.97 2634.48L1401.98 2630.90L1404.05 2626.50L1406.19 2621.25L1409.73 2611.28L1413.69 2598.57L1417.47 2585.47L1427.09 2550.98L1432.35 2533.32L1434.97 2525.18L1437.47 2517.99L1439.90 2511.53L1442.26 2505.86L1444.41 2501.25L1446.52 2497.21L1448.61 2493.75L1450.71 2490.83L1452.77 2488.50L1454.83 2486.71L1456.90 2485.47L1458.96 2484.78L1460.11 2484.64L1461.29 2484.68L1462.47 2484.89L1463.65 2485.29L1466.01 2486.60L1468.37 2488.62L1470.75 2491.35L1473.19 2494.83L1475.66 2499.04L1478.15 2503.95L1480.59 2509.36L1483.11 2515.53L1485.71 2522.44L1488.47 2530.33L1493.88 2547.04L1504.01 2580.25L1508.06 2593.12L1512.29 2605.67L1516.12 2615.85L1518.40 2621.25L1520.63 2625.97L1522.80 2630.01L1524.91 2633.38L1527.00 2636.12L1529.07 2638.24L1531.13 2639.76L1533.20 2640.68L1534.99 2640.99L1536.79 2640.85L1538.61 2640.26L1540.43 2639.22L1542.28 2637.73L1544.18 2635.76L1546.11 2633.34L1548.10 2630.44L1550.00 2627.30L1551.96 2623.74L1556.22 2615.02L1560.69 2604.82L1570.02 2582.35L1574.12 2572.79L1578.46 2563.39L1582.45 2555.65L1584.79 2551.61L1587.06 2548.05L1589.31 2544.94L1591.51 2542.30L1593.68 2540.10L1595.85 2538.31L1598.02 2536.96L1600.17 2536.04L1602.58 2535.52L1605.02 2535.54L1607.46 2536.10L1609.92 2537.22L1612.39 2538.87L1614.91 2541.09L1617.45 2543.86L1620.08 2547.24L1622.52 2550.81L1625.04 2554.92L1627.67 2559.59L1630.45 2564.94L1635.89 2576.24L1646.10 2598.80L1650.23 2607.64L1654.57 2616.31L1658.49 2623.31L1660.82 2627.04L1663.07 2630.27L1665.27 2633.05L1667.44 2635.41L1669.58 2637.35L1671.70 2638.87L1673.82 2639.98L1675.91 2640.68L1677.73 2640.97L1679.58 2640.95L1681.43 2640.64L1683.28 2640.03L1685.15 2639.12L1687.08 2637.89L1689.06 2636.33L1691.07 2634.48L1693.08 2632.36L1695.15 2629.94L1699.62 2623.98L1704.37 2616.88L1714.23 2601.16L1718.57 2594.50L1723.18 2587.99L1727.39 2582.75L1729.88 2580.03L1732.32 2577.69L1734.70 2575.71L1737.04 2574.10L1739.37 2572.81L1741.67 2571.87L1743.98 2571.27L1746.26 2571.00" stroke="#8FB032" stroke-dasharray="5.300,19.700,20.200,19.302" stroke-dashoffset="55.496"/>
<path d="M1746.23 2571.00L1748.08 2571.02L1749.93 2571.26L1751.78 2571.71L1753.65 2572.39L1755.53 2573.27L1757.43 2574.37L1759.36 2575.70L1761.32 2577.25L1765.28 2580.98L1769.49 2585.69L1774.02 2591.47L1779.30 2598.86" stroke="#8FB032" stroke-dasharray="5.300,19.700,20.200,19.302" stroke-dashoffset="55.494"/>
<path d="M171.30 1647.60L172.67 1647.81L174.01 1648.41L175.37 1649.44L176.71 1650.85L178.05 1652.67L179.39 1654.91L180.71 1657.50L182.02 1660.51L184.62 1667.74L187.14 1676.45L189.60 1686.71L191.99 1698.41L194.29 1711.53L196.52 1726.05L198.69 1742.14L200.78 1759.60L202.82 1778.65L204.77 1799.02L206.68 1820.96L208.55 1844.81L211.77 1891.39L214.85 1943.49L217.85 2001.97L220.83 2067.94L223.35 2130.05L226.00 2201.19L235.38 2472.41L237.20 2519.73L238.86 2558.03L240.69 2593.09L242.43 2618.39L243.26 2627.29L244.09 2634.02L244.92 2638.51L245.35 2639.95L245.75 2640.74L246.18 2641.00L246.61 2640.65L247.04 2639.70L247.49 2638.04L248.38 2632.93L249.26 2625.40L250.17 2615.24L251.11 2602.40L253.07 2568.69L254.73 2533.96L256.60 2489.74L265.64 2253.35L268.13 2192.30L270.49 2138.65L273.25 2081.47L276.01 2030.43L278.85 1984.13L281.74 1943.01L285.01 1903.25L288.44 1868.34L290.21 1852.79L292.01 1838.56L293.86 1825.44L295.73 1813.61L297.69 1802.77L299.67 1793.24L301.68 1784.98L303.75 1777.91L305.84 1772.10L307.95 1767.56L309.03 1765.76L310.10 1764.29L311.17 1763.14L312.27 1762.29L313.45 1761.75L314.63 1761.59L315.81 1761.80L316.98 1762.40L318.16 1763.37L319.34 1764.71L320.52 1766.44L321.70 1768.55L324.03 1773.88L326.34 1780.68L328.62 1788.96L330.84 1798.62L333.01 1809.62L335.16 1822.09L337.25 1835.88L339.31 1851.18L341.32 1867.78L343.28 1885.66L345.21 1905.06L347.11 1926.00L350.40 1966.83L353.62 2012.60L356.78 2063.67L359.95 2120.88L362.65 2174.58L365.52 2235.75L376.05 2475.26L378.25 2520.51L380.23 2557.03L382.48 2591.92L383.56 2605.63L384.60 2616.99L385.65 2626.25L386.66 2633.16L387.68 2637.92L388.19 2639.48L388.70 2640.50L389.24 2640.98L389.77 2640.84L390.31 2640.11L390.87 2638.69L391.97 2634.07L393.07 2627.05L394.20 2617.51L395.37 2605.13L396.58 2590.16L397.84 2572.29L399.88 2539.31L402.16 2497.84L412.10 2298.27L417.16 2204.73L419.98 2158.23L422.74 2116.78L425.52 2079.17L428.37 2045.10L431.42 2013.07L434.53 1985.08L437.72 1960.86L439.35 1950.10L440.99 1940.41L442.68 1931.48L444.37 1923.61L446.08 1916.66L447.80 1910.73L449.54 1905.72L451.31 1901.65L453.08 1898.59L454.84 1896.51L455.84 1895.77L456.85 1895.32L457.87 1895.19L458.89 1895.37L459.91 1895.87L460.93 1896.69L461.95 1897.82L462.96 1899.27L465.00 1903.11L467.01 1908.17L469.02 1914.49L471.00 1921.99L472.96 1930.66L474.92 1940.62L476.85 1951.74L478.75 1964.01L480.63 1977.41L482.50 1992.16L486.20 2025.31L489.44 2059.02L492.63 2096.57L495.82 2138.53L499.06 2185.63L501.88 2229.90L504.88 2280.12L516.35 2482.55L518.92 2524.04L521.25 2557.94L523.93 2591.12L525.22 2604.42L526.45 2615.39L527.69 2624.50L528.89 2631.53L530.10 2636.65L530.71 2638.51L531.30 2639.81L531.95 2640.68L532.62 2641.00L533.29 2640.71L533.96 2639.82L534.63 2638.33L535.30 2636.26L536.66 2630.26L538.06 2621.81L539.48 2610.92L540.95 2597.42L542.51 2580.99L544.97 2551.05L547.73 2513.24L558.59 2349.40L563.71 2277.24L566.44 2242.14L569.12 2210.40L571.77 2181.71L574.43 2155.79L577.03 2133.07L579.65 2112.77L582.30 2094.91L584.96 2079.62L587.64 2066.73L590.37 2056.13L591.74 2051.77L593.13 2047.96L594.50 2044.84L595.89 2042.28L596.80 2040.94L597.74 2039.84L598.65 2039.04L599.59 2038.48L600.50 2038.20L601.44 2038.18L602.38 2038.44L603.32 2038.97L604.25 2039.77L605.19 2040.85L607.04 2043.76L608.89 2047.73L610.74 2052.77L612.59 2058.87L614.44 2066.04L616.29 2074.30L618.11 2083.50L619.93 2093.78L621.75 2105.14L625.40 2131.13L628.56 2157.23L631.75 2186.88L634.97 2220.06L638.26 2257.32L641.13 2292.15L644.24 2332.03L656.46 2496.19L659.30 2531.39L661.87 2560.48L664.80 2589.24L666.19 2601.06L667.53 2611.12L668.87 2619.82L670.18 2626.96L671.47 2632.57L672.75 2636.77L673.56 2638.67L674.36 2640.01L675.17 2640.78L675.97 2641.00L676.77 2640.65L677.61 2639.71L678.41 2638.24L679.24 2636.17L680.90 2630.35L682.62 2622.13L684.36 2611.66L686.18 2598.63L689.29 2572.23L692.80 2537.59L696.12 2501.76L704.91 2403.56L709.93 2351.16" stroke="#EB6235" stroke-dasharray="5.500,19.424" stroke-dashoffset="0.400"/>
<path d="M709.90 2351.43L712.77 2323.84L715.55 2299.05L718.29 2276.83L720.97 2257.15L723.65 2239.62L726.33 2224.26L729.01 2211.09L731.69 2200.09L734.39 2191.18L735.76 2187.51L737.13 2184.40L738.50 2181.83L739.86 2179.82L741.23 2178.34L742.60 2177.42L743.96 2177.03L745.33 2177.18L746.70 2177.86L748.09 2179.11L749.46 2180.86L750.85 2183.20L752.24 2186.09L753.64 2189.52L756.00 2196.58L758.35 2205.18L760.71 2215.31L763.10 2227.11L765.48 2240.45L767.89 2255.45L770.33 2272.14L772.80 2290.51L777.01 2325.05L781.51 2365.90L785.69 2406.54L794.67 2496.78L798.66 2534.92L802.33 2566.87L805.66 2592.05L807.37 2603.33L809.06 2613.15L810.69 2621.35L812.30 2628.08L813.91 2633.44L815.49 2637.34L816.30 2638.78L817.07 2639.84L817.85 2640.56L818.65 2640.94L819.43 2640.97L820.24 2640.65L821.04 2639.98L821.84 2638.96L823.45 2635.89L825.09 2631.42L826.75 2625.55L828.46 2618.19L830.23 2609.33L832.08 2598.83L835.11 2579.30L838.51 2554.71L850.89 2456.50L856.25 2416.43L859.04 2397.30L861.75 2380.08L864.37 2364.80L866.97 2351.14L869.57 2339.02L872.15 2328.58L874.69 2319.81L877.24 2312.62L878.53 2309.59L879.78 2307.01L881.04 2304.83L882.30 2303.03L883.56 2301.62L884.85 2300.59L886.11 2299.97L887.40 2299.73L888.63 2299.88L889.89 2300.41L891.15 2301.33L892.41 2302.62L893.67 2304.30L894.93 2306.34L896.19 2308.76L897.45 2311.55L899.99 2318.30L902.56 2326.60L905.16 2336.45L907.82 2347.97L910.44 2360.76L913.12 2375.15L915.88 2391.27L918.78 2409.44L924.38 2447.54L938.05 2545.70L941.99 2571.51L945.50 2592.10L947.64 2603.25L949.71 2612.81L951.72 2620.90L953.67 2627.54L955.60 2632.84L957.53 2636.83L958.50 2638.33L959.46 2639.50L960.40 2640.32L961.36 2640.82L962.22 2641.00L963.11 2640.90L963.99 2640.53L964.87 2639.88L965.76 2638.97L966.64 2637.79L968.47 2634.56L970.32 2630.22L972.19 2624.79L974.15 2618.13L976.16 2610.30L979.48 2595.54L983.21 2576.87L996.20 2505.06L1001.54 2477.21L1004.27 2464.08L1006.87 2452.49L1009.42 2442.10L1011.88 2433.00L1014.29 2425.08L1016.65 2418.32L1018.98 2412.63L1021.32 2407.93L1023.65 2404.26L1024.80 2402.83L1025.95 2401.65L1027.10 2400.72L1028.26 2400.05L1029.41 2399.63L1030.59 2399.46L1031.74 2399.55L1032.89 2399.89L1034.05 2400.48L1035.20 2401.32L1036.35 2402.41L1037.53 2403.78L1039.86 2407.22L1042.22 2411.68L1044.60 2417.17L1047.02 2423.68L1049.48 2431.29L1051.95 2439.80L1054.49 2449.47L1057.15 2460.41L1059.91 2472.62L1065.40 2498.89L1075.45 2549.94L1079.44 2569.61L1083.63 2588.79L1087.40 2604.28L1089.66 2612.47L1091.85 2619.59L1094.00 2625.65L1096.09 2630.64L1098.15 2634.63L1100.21 2637.67L1101.26 2638.84L1102.28 2639.74L1103.30 2640.39L1104.32 2640.81L1105.25 2640.99L1106.19 2640.96L1107.13 2640.73L1108.07 2640.31L1109.94 2638.89L1111.87 2636.65L1113.83 2633.61L1115.84 2629.73L1117.90 2625.01L1120.05 2619.40L1123.58 2608.78L1127.55 2595.29L1131.33 2581.40L1140.95 2544.87L1146.20 2526.17L1148.86 2517.47L1151.40 2509.71L1153.84 2502.90L1156.23 2496.87L1158.48 2491.80L1160.70 2487.42L1162.90 2483.72L1165.10 2480.66L1167.27 2478.29L1169.41 2476.60L1171.56 2475.54L1172.63 2475.26L1173.73 2475.13L1174.80 2475.17L1175.90 2475.38L1178.10 2476.30L1180.29 2477.87L1182.52 2480.13L1184.74 2483.02L1187.02 2486.64L1189.32 2490.92L1191.68 2495.94L1194.07 2501.61L1196.51 2507.99L1199.05 2515.21L1201.71 2523.27L1207.07 2540.82L1217.22 2576.12L1221.35 2590.02L1225.69 2603.63L1229.63 2614.65L1231.99 2620.50L1234.27 2625.54L1236.49 2629.83L1238.66 2633.38L1240.83 2636.28L1242.98 2638.47L1245.12 2639.98L1247.24 2640.81L1249.20 2640.99L1251.15 2640.61L1253.14 2639.68L1255.15 2638.18L1257.18 2636.13L1259.27 2633.49L1261.44 2630.23L1263.67 2626.39L1267.39 2618.97L1271.52 2609.62L1275.46 2599.95L1285.24 2575.12L1290.44 2562.73L1293.04 2557.03L1295.51 2552.00L1297.89 2547.54L1300.20 2543.63L1302.34 2540.39L1304.43 2537.62L1306.52 2535.24L1308.58 2533.29L1310.62 2531.76L1312.66 2530.64L1314.70 2529.92L1316.73 2529.62L1318.85 2529.73L1320.99 2530.30L1323.14 2531.30L1325.28 2532.74L1327.45 2534.63L1329.68 2536.99L1331.93 2539.80L1334.21 2543.06L1336.51 2546.75L1338.90 2550.94L1343.99 2560.99L1349.24 2572.54L1359.42 2596.29L1363.63 2605.79L1368.05 2615.07L1372.07 2622.62L1374.46 2626.59L1376.79 2630.07L1379.07 2633.04L1381.29 2635.51L1383.49 2637.51L1385.69 2639.07L1387.89 2640.17L1390.06 2640.81L1391.83 2641.00L1393.62 2640.89L1395.44 2640.48L1397.27 2639.77L1399.12 2638.76L1401.02 2637.43L1402.95 2635.79L1404.90 2633.85L1408.95 2629.07L1413.37 2622.84L1418.06 2615.45L1427.87 2599.02L1432.16 2592.10L1436.72 2585.31L1440.87 2579.85L1443.34 2577.00L1445.72 2574.57L1448.08 2572.48L1450.38 2570.77L1452.66 2569.41L1454.94 2568.39L1457.22 2567.72L1459.47 2567.40L1461.59 2567.40L1463.70 2567.71L1465.85 2568.32L1467.99 2569.23L1470.16 2570.44L1472.39 2571.98L1474.64 2573.82L1476.94 2575.99L1479.22 2578.40L1481.55 2581.11L1486.59 2587.69L1491.79 2595.25L1506.15 2617.18L1510.60 2623.37L1514.65 2628.40L1517.06 2631.07L1519.39 2633.39L1521.67 2635.38L1523.92 2637.07L1526.15 2638.45L1528.34 2639.52L1530.54 2640.31L1532.74 2640.80L1534.64 2640.99L1536.55 2640.96L1538.48 2640.71L1540.43 2640.24L1542.41 2639.54L1544.42 2638.63L1546.46 2637.50L1548.58 2636.11L1552.68 2632.92L1557.18 2628.76L1561.87 2623.91L1575.46 2609.18L1579.80 2604.91L1583.74 2601.45L1588.35 2598.04L1590.57 2596.67L1592.75 2595.53L1594.89 2594.59L1597.03 2593.85L1599.15 2593.31L1601.27 2592.98L1603.49 2592.85L1605.74 2592.94L1607.99 2593.25L1610.25 2593.79L1612.52 2594.55L1614.86 2595.54L1617.21 2596.77L1619.65 2598.24L1624.32 2601.61L1629.38 2605.92L1634.58 2610.87L1648.86 2625.14L1653.29 2629.17L1657.28 2632.44L1661.97 2635.71L1666.45 2638.15L1668.64 2639.09L1670.81 2639.83L1672.98 2640.40L1675.13 2640.77L1677.25 2640.97L1679.39 2640.99L1681.56 2640.83L1683.73 2640.50L1685.93 2639.99L1688.18 2639.31L1692.87 2637.38L1696.97 2635.22L1701.53 2632.42L1717.58 2621.19L1724.15 2616.99L1727.66 2615.03L1730.98 2613.42L1734.20 2612.11L1737.36 2611.09L1740.95 2610.27L1744.51 2609.82L1748.08 2609.75L1751.67 2610.06L1755.29 2610.74L1758.99 2611.80L1762.82 2613.25L1766.84 2615.12" stroke="#EB6235" stroke-dasharray="5.500,19.365" stroke-dashoffset="15.797"/>
<path d="M1766.81 2615.11L1772.47 2618.22L1779.30 2622.49" stroke="#EB6235" stroke-dasharray="5.500,19.365" stroke-dashoffset="15.836"/>
<path d="M171.30 1647.60L171.84 1647.74L172.37 1648.15L173.47 1649.86L174.57 1652.71L175.67 1656.70L176.77 1661.81L177.89 1668.19L180.12 1684.14L182.40 1704.91L184.70 1730.24L187.09 1760.74L189.55 1796.46L193.65 1864.11L198.21 1948.94L202.52 2035.72L212.92 2251.99L218.25 2356.42L220.88 2404.02L223.37 2446.18L225.78 2483.78L228.12 2516.82L230.34 2545.07L232.51 2569.35L234.66 2590.01L236.80 2607.24L238.92 2620.82L239.99 2626.37L241.03 2630.93L242.08 2634.64L243.12 2637.49L244.17 2639.50L245.24 2640.69L245.75 2640.94L246.26 2641.00L246.77 2640.85L247.28 2640.52L248.30 2639.26L249.31 2637.23L250.33 2634.44L251.38 2630.80L252.42 2626.39L253.50 2621.09L255.64 2608.19L257.81 2592.16L260.06 2572.61L262.37 2549.77L266.25 2505.64L270.54 2450.40L274.61 2393.58L284.42 2251.95L289.46 2183.56L291.93 2152.66L294.29 2125.14L296.54 2101.00L298.73 2079.67L300.80 2061.82L302.81 2046.59L304.79 2033.76L306.77 2023.19L308.73 2015.06L309.70 2011.90L310.66 2009.30L311.65 2007.24L312.62 2005.80L313.58 2004.95L314.55 2004.66L315.08 2004.75L315.62 2005.02L316.72 2006.11L317.82 2007.94L318.91 2010.50L320.01 2013.78L321.14 2017.87L323.36 2028.09L325.64 2041.40L327.95 2057.63L330.33 2077.17L332.80 2100.06L336.90 2143.40L341.45 2197.75L345.77 2253.33L356.14 2391.52L361.47 2458.44L364.10 2488.95L366.59 2515.97L369.00 2540.08L371.34 2561.26L373.53 2579.17L375.70 2594.77L377.85 2608.06L379.96 2619.02L382.08 2627.80L383.13 2631.31L384.17 2634.29L385.22 2636.71L386.26 2638.60L387.31 2639.94L388.38 2640.75L389.40 2641.00L390.42 2640.74L391.44 2639.99L392.48 2638.70L393.50 2636.95L394.54 2634.65L395.59 2631.87L396.66 2628.50L398.81 2620.31L401.00 2609.97L403.25 2597.49L405.56 2582.89L409.44 2554.67L413.76 2519.10L417.86 2482.47L427.70 2391.50L432.73 2347.72L435.20 2327.94L437.56 2310.33L439.81 2294.89L442.01 2281.25L444.07 2269.83L446.08 2260.10L448.06 2251.90L450.02 2245.24L451.98 2240.03L452.94 2238.01L453.91 2236.35L454.87 2235.06L455.84 2234.13L456.80 2233.57L457.77 2233.38L458.86 2233.61L459.96 2234.32L461.06 2235.49L462.16 2237.13L463.26 2239.23L464.38 2241.85L466.61 2248.41L468.89 2256.93L471.19 2267.34L473.58 2279.86L476.04 2294.52L480.14 2322.28L484.70 2357.10L489.01 2392.71L499.39 2481.23L504.72 2524.09L507.35 2543.63L509.84 2560.94L512.22 2576.21L514.55 2589.80L516.75 2601.28L518.90 2611.18L521.01 2619.62L523.13 2626.69L525.22 2632.30L527.31 2636.53L528.36 2638.12L529.40 2639.36L530.45 2640.25L531.49 2640.80L532.38 2640.99L533.26 2640.94L534.15 2640.64L535.06 2640.09L535.94 2639.31L536.85 2638.26L538.67 2635.44L540.50 2631.67L542.37 2626.84L544.28 2621.02L546.23 2614.12L548.30 2605.92L550.41 2596.61L554.97 2573.95L559.82 2546.92L569.68 2488.49L573.94 2464.15L578.47 2440.31L582.57 2421.32L585.01 2411.45L587.40 2402.96L589.73 2395.86L592.01 2390.12L594.28 2385.63L595.41 2383.88L596.54 2382.44L597.66 2381.33L598.79 2380.53L599.89 2380.06L601.01 2379.89L602.11 2380.04L603.21 2380.49L604.31 2381.25L605.41 2382.30L606.51 2383.65L607.63 2385.33L609.86 2389.53L612.13 2394.99L614.44 2401.66L616.82 2409.68L619.29 2419.07L623.39 2436.86L627.95 2459.17L632.26 2481.98L642.63 2538.68L647.94 2566.00L650.54 2578.40L653.03 2589.50L655.42 2599.31L657.75 2608.03L659.92 2615.32L662.06 2621.69L664.18 2627.12L666.27 2631.64L668.36 2635.27L670.42 2637.99L671.44 2639.02L672.49 2639.84L673.53 2640.45L674.58 2640.83L675.46 2640.98L676.37 2640.98L678.17 2640.48L679.99 2639.33L681.81 2637.55L683.66 2635.13L685.57 2632.02L687.49 2628.25L689.45 2623.84L691.51 2618.59L693.63 2612.63L698.19 2598.13L703.04 2580.82L712.93 2543.29L717.19 2527.70L721.72 2512.43L725.82 2500.27L728.26 2493.95L730.64 2488.51L732.97 2483.96L735.25 2480.29L737.50 2477.44L739.75 2475.39L740.88 2474.67L742.01 2474.16L743.10 2473.85L744.23 2473.74L746.13 2474.03L748.04 2474.89L749.94 2476.32L751.87 2478.34L753.82 2480.95L755.81 2484.16L757.82 2487.96L759.88 2492.40L762.05 2497.62L764.28 2503.50L769.07 2517.72L774.17 2534.53L784.54 2570.86L789.01 2585.99L793.76 2600.83L798.10 2612.87L800.67 2619.15L803.19 2624.61L805.66 2629.25L808.07 2633.07L810.45 2636.12L812.84 2638.44L815.22 2640.02L816.40 2640.53L817.61 2640.85L819.40 2640.99L821.23 2640.72L823.08 2640.01L824.93 2638.89L826.80 2637.34L828.70 2635.37L830.66 2632.93L832.64 2630.08L834.71 2626.73L836.85 2622.87L841.43 2613.53L846.28 2602.44L856.17 2578.40L860.44 2568.41L864.94 2558.69L869.04 2550.89L871.48 2546.84L873.84 2543.39L876.17 2540.46L878.44 2538.10L880.70 2536.26L882.95 2534.94L885.20 2534.14L887.42 2533.86L889.33 2534.03L891.26 2534.58L893.18 2535.51L895.11 2536.81L897.07 2538.48L899.08 2540.57L901.12 2543.05L903.18 2545.90L905.35 2549.25L907.58 2553.02L912.35 2562.09L917.44 2572.87L927.76 2596.02L932.21 2605.66L936.92 2615.13L941.24 2622.81L943.78 2626.81L946.28 2630.30L948.71 2633.27L951.13 2635.75L953.51 2637.74L955.87 2639.25L958.23 2640.29L960.59 2640.87L962.41 2641.00L964.26 2640.85L966.13 2640.42L968.01 2639.72L969.91 2638.73L971.84 2637.47L973.83 2635.90L975.84 2634.05L977.90 2631.91L980.04 2629.45L984.65 2623.43L989.53 2616.29L999.39 2600.94L1003.65 2594.54L1008.13 2588.34L1012.23 2583.33L1014.67 2580.73L1017.03 2578.52L1019.33 2576.66L1021.61 2575.13L1023.86 2573.94L1026.11 2573.09L1028.34 2572.56L1030.56 2572.37L1032.49 2572.47L1034.42 2572.82L1036.35 2573.40L1038.31 2574.23L1040.29 2575.32L1042.30 2576.65L1044.36 2578.26L1046.45 2580.11L1050.85 2584.68L1055.65 2590.53L1060.71 2597.40L1070.95 2612.12L1075.37 2618.26L1080.06 2624.30L1084.32 2629.18L1086.84 2631.74L1089.31 2633.97L1091.72 2635.87L1094.10 2637.48L1096.46 2638.77L1098.82 2639.78L1101.15 2640.48L1103.48 2640.88L1105.36 2641.00L1107.24 2640.93L1109.14 2640.67L1111.04 2640.24L1112.97 2639.62L1114.95 2638.80L1119.03 2636.58L1123.26 2633.62L1127.90 2629.74L1132.78 2625.17L1146.87 2611.26L1151.35 2607.29L1155.42 2604.10L1157.83 2602.44L1160.19 2601.02L1162.50 2599.82L1164.75 2598.85L1166.97 2598.08L1169.20 2597.53L1171.42 2597.18L1173.62 2597.04L1175.58 2597.09L1177.53 2597.30L1181.50 2598.22L1185.57 2599.80L1189.78 2602.05L1194.15 2604.97L1198.95 2608.72L1203.98 2613.10L1218.51 2626.34L1223.12 2630.16L1227.33 2633.27L1232.26 2636.34L1236.98 2638.60L1239.28 2639.44L1241.58 2640.10L1243.89 2640.58L1246.17 2640.88L1250.03 2640.98L1253.97 2640.57L1258.01 2639.64L1262.22 2638.19L1266.48 2636.28L1271.15 2633.79L1276.02 2630.86L1290.01 2622.01L1294.43 2619.49L1298.48 2617.45L1303.17 2615.48L1307.67 2614.08L1312.07 2613.20L1316.44 2612.85L1320.48 2612.98L1324.58 2613.56L1328.77 2614.59L1333.13 2616.09L1337.53 2617.98L1342.33 2620.40L1347.31 2623.18L1361.57 2631.51L1366.04 2633.90L1370.14 2635.86L1374.91 2637.80L1379.50 2639.27L1383.97 2640.28L1388.40 2640.85L1392.50 2641.00L1396.68 2640.78L1400.96 2640.18L1405.44 2639.21L1409.75 2637.97L1414.50 2636.34L1432.99 2628.94L1441.14 2626.09L1445.64 2624.84L1449.93 2623.92L1454.14 2623.31L1458.26 2623.00L1462.68 2623.00L1467.13 2623.34L1471.72 2624.03L1476.49 2625.07L1480.94 2626.31L1485.84 2627.89L1504.25 2634.72L1512.21 2637.36L1516.58 2638.57L1520.76 2639.52L1524.83 2640.23L1528.83 2640.70L1533.41 2640.97L1538.05 2640.95L1542.79 2640.63L1547.72 2640.00L1552.49 2639.16L1557.74 2638.01L1574.74 2633.65" stroke="#000000" stroke-dasharray="50.000,64.699" stroke-dashoffset="0.400"/>
<path d="M1574.71 2633.65L1584.81 2631.36L1589.29 2630.59L1593.55 2630.02L1597.76 2629.64L1601.94 2629.46L1606.09 2629.48L1610.30 2629.68L1617.29 2630.43L1624.91 2631.73L1632.03 2633.27L1649.43 2637.42L1658.70 2639.26L1663.42 2639.97L1667.97 2640.50L1672.45 2640.83L1676.92 2640.99L1684.86 2640.83L1693.30 2640.11L1701.79 2638.96L1718.68 2636.18L1725.94 2635.10L1733.74 2634.21L1741.03 2633.72L1749.58 2633.62L1758.34 2634.05L1767.67 2635.00L1779.30 2636.66" stroke="#000000" stroke-dasharray="50.000,64.699" stroke-dashoffset="105.680"/>
</g>
<g stroke="#000" fill="none">
<path d="M169.35 2641H1780.5" stroke-width="3.9"/>
<path d="M171.3 2642.95V1645.6" stroke-width="3.9"/>
<path d="M171.3 2641H190.2M171.3 2591.33H183.2M171.3 2541.66H183.2M171.3 2491.99H183.2M171.3 2442.32H190.2M171.3 2392.65H183.2M171.3 2342.98H183.2M171.3 2293.31H183.2M171.3 2243.64H190.2M171.3 2193.97H183.2M171.3 2144.3H183.2M171.3 2094.63H183.2M171.3 2044.96H190.2M171.3 1995.29H183.2M171.3 1945.62H183.2M171.3 1895.95H183.2M171.3 1846.28H190.2M171.3 1796.61H183.2M171.3 1746.94H183.2M171.3 1697.27H183.2M171.3 1647.6H190.2M235.62 2641V2629.05M299.94 2641V2629.05M364.26 2641V2629.05M428.58 2641V2629.05M492.9 2641V2622.25M557.22 2641V2629.05M621.54 2641V2629.05M685.86 2641V2629.05M750.18 2641V2629.05M814.5 2641V2622.25M878.82 2641V2629.05M943.14 2641V2629.05M1007.46 2641V2629.05M1071.78 2641V2629.05M1136.1 2641V2622.25M1200.42 2641V2629.05M1264.74 2641V2629.05M1329.06 2641V2629.05M1393.38 2641V2629.05M1457.7 2641V2622.25M1522.02 2641V2629.05M1586.34 2641V2629.05M1650.66 2641V2629.05M1714.98 2641V2629.05M1779.3 2641V2622.25" stroke-width="3"/>
</g>
<text transform="translate(155.6 2661.8) scale(1 1.04)" text-anchor="end" style="font-family:'Liberation Sans',Arial,sans-serif;font-size:58px">0.0</text>
<text transform="translate(155.6 2463.12) scale(1 1.04)" text-anchor="end" style="font-family:'Liberation Sans',Arial,sans-serif;font-size:58px">0.2</text>
<text transform="translate(155.6 2264.44) scale(1 1.04)" text-anchor="end" style="font-family:'Liberation Sans',Arial,sans-serif;font-size:58px">0.4</text>
<text transform="translate(155.6 2065.76) scale(1 1.04)" text-anchor="end" style="font-family:'Liberation Sans',Arial,sans-serif;font-size:58px">0.6</text>
<text transform="translate(155.6 1867.08) scale(1 1.04)" text-anchor="end" style="font-family:'Liberation Sans',Arial,sans-serif;font-size:58px">0.8</text>
<text transform="translate(155.6 1668.4) scale(1 1.04)" text-anchor="end" style="font-family:'Liberation Sans',Arial,sans-serif;font-size:58px">1.0</text>
<text transform="translate(171.3 2717.65) scale(1 1.03)" text-anchor="middle" style="font-family:'Liberation Sans',Arial,sans-serif;font-size:58px">0</text>
<text transform="translate(492.9 2717.65) scale(1 1.03)" text-anchor="middle" style="font-family:'Liberation Sans',Arial,sans-serif;font-size:58px">100</text>
<text transform="translate(814.5 2717.65) scale(1 1.03)" text-anchor="middle" style="font-family:'Liberation Sans',Arial,sans-serif;font-size:58px">200</text>
<text transform="translate(1136.1 2717.65) scale(1 1.03)" text-anchor="middle" style="font-family:'Liberation Sans',Arial,sans-serif;font-size:58px">300</text>
<text transform="translate(1457.7 2717.65) scale(1 1.03)" text-anchor="middle" style="font-family:'Liberation Sans',Arial,sans-serif;font-size:58px">400</text>
<text transform="translate(1779.3 2717.65) scale(1 1.03)" text-anchor="middle" style="font-family:'Liberation Sans',Arial,sans-serif;font-size:58px">500</text>
<text transform="translate(124.28 1597.45) scale(1 1.03)" text-anchor="start" style="font-family:'Liberation Sans',Arial,sans-serif;font-size:60px">F(t)</text>
<text transform="translate(1820.09 2662.75) scale(0.915 1)" text-anchor="start" style="font-family:'DejaVu Serif',serif;font-style:italic;font-size:58.9px">&#947;</text>
<text transform="translate(1852.41 2662.25) scale(0.9 1)" text-anchor="start" style="font-family:'Liberation Sans',Arial,sans-serif;font-size:65.1px">t</text>
<text transform="matrix(0.986 0 0 1.035 0 1513.9)" style="font-family:'Liberation Sans',Arial,sans-serif;font-size:73px"><tspan x="733.26">Non</tspan><tspan x="871.2" dy="4.71" style="font-size:86.7px" textLength="33.47" lengthAdjust="spacingAndGlyphs">&#8211;</tspan><tspan x="907.8" dy="-4.71">Markovian</tspan></text>
<rect x="1922.3" y="1888.15" width="51" height="8.8" fill="#5E81B5"/>
<text transform="translate(2000.5 1910.75) scale(0.958 1)" text-anchor="start" style="font-family:'Liberation Sans',Arial,sans-serif;font-size:52px">I=1</text>
<rect x="1922.3" y="1983.35" width="20.7" height="8.8" fill="#E19C24"/>
<rect x="1957.3" y="1983.35" width="16" height="8.8" fill="#E19C24"/>
<text transform="translate(2000.5 2005.95) scale(0.958 1)" text-anchor="start" style="font-family:'Liberation Sans',Arial,sans-serif;font-size:52px">I=0.90</text>
<rect x="1922.3" y="2078.65" width="13.7" height="8.8" fill="#8FB032"/>
<rect x="1947.3" y="2078.65" width="26" height="8.8" fill="#8FB032"/>
<text transform="translate(2000.5 2101.25) scale(0.958 1)" text-anchor="start" style="font-family:'Liberation Sans',Arial,sans-serif;font-size:52px">I=0.75</text>
<rect x="1922.3" y="2173.85" width="13.7" height="8.8" fill="#EB6235"/>
<rect x="1947.3" y="2173.85" width="13.8" height="8.8" fill="#EB6235"/>
<text transform="translate(2000.5 2196.45) scale(0.958 1)" text-anchor="start" style="font-family:'Liberation Sans',Arial,sans-serif;font-size:52px">I=0.50</text>
<rect x="1922.3" y="2269.15" width="51" height="8.8" fill="#000000"/>
<text transform="translate(2000.5 2291.75) scale(0.958 1)" text-anchor="start" style="font-family:'Liberation Sans',Arial,sans-serif;font-size:52px">I=0</text>
</svg></body></html>
